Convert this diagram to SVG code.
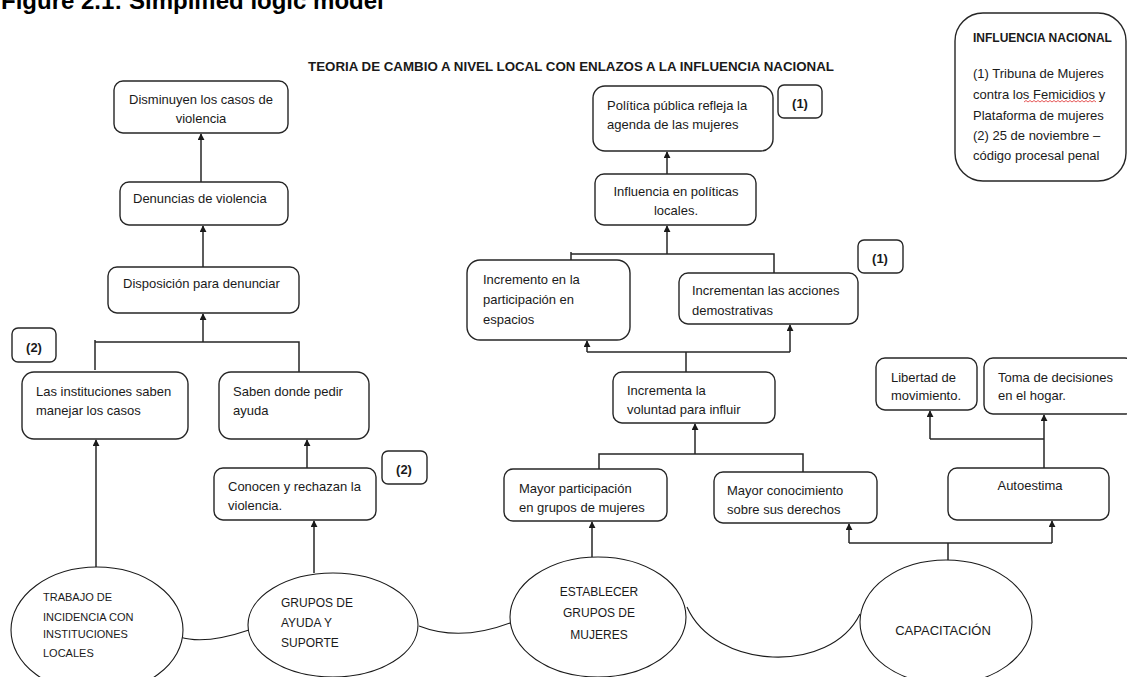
<svg xmlns="http://www.w3.org/2000/svg" width="1127" height="677" viewBox="0 0 1127 677">
<style>
.box{fill:#fff;stroke:#262626;stroke-width:1.4}
.ell{fill:#fff;stroke:#1a1a1a;stroke-width:1.1}
.t{font-family:"Liberation Sans",Arial,sans-serif;font-size:13px;fill:#1a1a1a}
.c{text-anchor:middle}
.b{font-weight:bold}
.cap11{font-family:"Liberation Sans",Arial,sans-serif;font-size:11px;fill:#1a1a1a}
.cap12{font-family:"Liberation Sans",Arial,sans-serif;font-size:12px;fill:#1a1a1a}
.ln{fill:none;stroke:#262626;stroke-width:1.5}
.arr{fill:none;stroke:#262626;stroke-width:1.5;marker-end:url(#ah)}
.crv{fill:none;stroke:#1a1a1a;stroke-width:1.1}
</style>
<defs>
<marker id="ah" viewBox="0 0 8 8" refX="7" refY="4" markerWidth="7" markerHeight="7" markerUnits="userSpaceOnUse" orient="auto">
<path d="M0,0 L8,4 L0,8 z" fill="#1a1a1a"/>
</marker>
</defs>
<rect width="1127" height="677" fill="#fff"/>
<text x="1" y="9" font-family="Liberation Sans,Arial,sans-serif" font-size="24" font-weight="bold" fill="#000">Figure 2.1: Simplified logic model</text>
<text x="308" y="71" class="t b" textLength="526" lengthAdjust="spacingAndGlyphs" style="font-size:12px">TEORIA DE CAMBIO A NIVEL LOCAL CON ENLAZOS A LA INFLUENCIA NACIONAL</text>

<g id="connectors">
<line class="arr" x1="201" y1="182" x2="201" y2="134"/>
<line class="arr" x1="203" y1="267" x2="203" y2="226"/>
<line class="arr" x1="203" y1="342" x2="203" y2="314"/>
<polyline class="ln" points="95,370 95,340"/>
<polyline class="ln" points="95,342 299,342 299,372"/>
<line class="arr" x1="96" y1="567" x2="96" y2="440"/>
<line class="arr" x1="307" y1="468" x2="307" y2="440"/>
<line class="arr" x1="314" y1="573" x2="314" y2="521"/>
<line class="arr" x1="667" y1="174" x2="667" y2="152"/>
<line class="arr" x1="667" y1="254" x2="667" y2="226"/>
<polyline class="ln" points="571,260 571,252"/>
<polyline class="ln" points="571,254 774,254 774,273"/>
<polyline class="ln" points="686,372 686,352"/>
<polyline class="ln" points="587,352 790,352"/>
<line class="arr" x1="587" y1="352" x2="587" y2="341"/>
<line class="arr" x1="790" y1="352" x2="790" y2="325"/>
<line class="arr" x1="695" y1="454" x2="695" y2="424"/>
<polyline class="ln" points="599,469 599,454 803,454 803,472"/>
<line class="arr" x1="592" y1="557" x2="592" y2="522"/>
<polyline class="ln" points="948,560 948,543"/>
<polyline class="ln" points="849,543 1052,543"/>
<line class="arr" x1="849" y1="543" x2="849" y2="524"/>
<line class="arr" x1="1052" y1="543" x2="1052" y2="521"/>
<line class="arr" x1="1044" y1="468" x2="1044" y2="415"/>
<polyline class="ln" points="1044,439 930,439"/>
<line class="arr" x1="930" y1="439" x2="930" y2="411"/>
<path class="crv" d="M180,637 Q205,645 249,630"/>
<path class="crv" d="M419,626 Q460,642 510,623"/>
<path class="crv" d="M687,607 C715,670 830,675 860,614"/>
</g>

<g id="n-disminuyen"><rect class="box" x="114" y="81" width="174" height="52" rx="9"/>
<text class="t c" x="201" y="104">Disminuyen los casos de</text><text class="t c" x="201" y="123">violencia</text></g>
<g id="n-denuncias"><rect class="box" x="120" y="182" width="168" height="43" rx="9"/>
<text class="t" x="133" y="203">Denuncias de violencia</text></g>
<g id="n-disposicion"><rect class="box" x="108" y="267" width="191" height="46" rx="9"/>
<text class="t" x="123" y="288">Disposición para denunciar</text></g>
<g id="n-ref2a"><rect class="box" x="12" y="328" width="44" height="34" rx="6"/>
<text class="t b c" x="34" y="352">(2)</text></g>
<g id="n-instituciones"><rect class="box" x="22" y="372" width="166" height="67" rx="12"/>
<text class="t" x="36" y="396">Las instituciones saben</text><text class="t" x="36" y="415">manejar los casos</text></g>
<g id="n-saben"><rect class="box" x="219" y="372" width="150" height="67" rx="12"/>
<text class="t" x="233" y="396">Saben donde pedir</text><text class="t" x="233" y="415">ayuda</text></g>
<g id="n-conocen"><rect class="box" x="214" y="468" width="162" height="52" rx="9"/>
<text class="t" x="228" y="491">Conocen y rechazan la</text><text class="t" x="228" y="510">violencia.</text></g>
<g id="n-ref2b"><rect class="box" x="382" y="451" width="45" height="33" rx="6"/>
<text class="t b c" x="404" y="474">(2)</text></g>

<g id="n-politica"><rect class="box" x="593" y="86" width="180" height="65" rx="12"/>
<text class="t" x="607" y="110">Política pública refleja la</text><text class="t" x="607" y="129">agenda de las mujeres</text></g>
<g id="n-ref1a"><rect class="box" x="778" y="85" width="44" height="33" rx="6"/>
<text class="t b c" x="800" y="108">(1)</text></g>
<g id="n-influencia"><rect class="box" x="595" y="174" width="161" height="51" rx="9"/>
<text class="t c" x="676" y="196">Influencia en políticas</text><text class="t c" x="676" y="215">locales.</text></g>
<g id="n-incremento"><rect class="box" x="467" y="260" width="163" height="80" rx="13"/>
<text class="t" x="483" y="284">Incremento en la</text><text class="t" x="483" y="304">participación en</text><text class="t" x="483" y="324">espacios</text></g>
<g id="n-incrementan"><rect class="box" x="679" y="273" width="179" height="51" rx="9"/>
<text class="t" x="692" y="295">Incrementan las acciones</text><text class="t" x="692" y="315">demostrativas</text></g>
<g id="n-ref1b"><rect class="box" x="858" y="240" width="45" height="33" rx="6"/>
<text class="t b c" x="880" y="263">(1)</text></g>
<g id="n-voluntad"><rect class="box" x="613" y="372" width="162" height="51" rx="9"/>
<text class="t" x="627" y="395">Incrementa la</text><text class="t" x="627" y="414">voluntad para influir</text></g>
<g id="n-mayorpart"><rect class="box" x="504" y="469" width="163" height="52" rx="9"/>
<text class="t" x="519" y="493">Mayor participación</text><text class="t" x="519" y="512">en grupos de mujeres</text></g>
<g id="n-mayorcon"><rect class="box" x="714" y="472" width="163" height="51" rx="9"/>
<text class="t" x="727" y="495">Mayor conocimiento</text><text class="t" x="727" y="514">sobre sus derechos</text></g>
<g id="n-libertad"><rect class="box" x="876" y="358" width="101" height="52" rx="9"/>
<text class="t" x="891" y="382">Libertad de</text><text class="t" x="891" y="400">movimiento.</text></g>
<g id="n-toma"><rect class="box" x="984" y="358" width="150" height="56" rx="9"/>
<text class="t" x="998" y="382">Toma de decisiones</text><text class="t" x="998" y="400">en el hogar.</text></g>
<g id="n-autoestima"><rect class="box" x="948" y="468" width="161" height="52" rx="9"/>
<text class="t c" x="1030" y="490">Autoestima</text></g>

<g id="n-influencia-nacional"><rect class="box" x="955" y="13" width="171" height="168" rx="28"/>
<text class="t b" x="973" y="42" style="font-size:12px">INFLUENCIA NACIONAL</text>
<text class="t" x="973" y="78">(1) Tribuna de Mujeres</text>
<text class="t" x="973" y="99">contra los Femicidios y</text>
<path d="M1024,102 l2,-1.5 l2,1.5 l2,-1.5 l2,1.5 l2,-1.5 l2,1.5 l2,-1.5 l2,1.5 l2,-1.5 l2,1.5 l2,-1.5 l2,1.5 l2,-1.5 l2,1.5 l2,-1.5 l2,1.5 l2,-1.5 l2,1.5 l2,-1.5 l2,1.5 l2,-1.5 l2,1.5 l2,-1.5 l2,1.5 l2,-1.5 l2,1.5 l2,-1.5 l2,1.5 l2,-1.5 l2,1.5 l2,-1.5 l2,1.5 l2,-1.5 l2,1.5 l2,-1.5 l2,1.5" fill="none" stroke="#e03030" stroke-width="0.8"/>
<text class="t" x="973" y="120">Plataforma de mujeres</text>
<text class="t" x="973" y="140">(2) 25 de noviembre –</text>
<text class="t" x="973" y="160">código procesal penal</text></g>

<g id="n-trabajo"><ellipse class="ell" cx="97" cy="630" rx="86" ry="63"/>
<text class="cap11" x="43" y="601">TRABAJO DE</text><text class="cap11" x="43" y="621">INCIDENCIA CON</text><text class="cap11" x="43" y="638">INSTITUCIONES</text><text class="cap11" x="43" y="657">LOCALES</text></g>
<g id="n-grupos"><ellipse class="ell" cx="333" cy="625" rx="85" ry="52"/>
<text class="cap12" x="281" y="607">GRUPOS DE</text><text class="cap12" x="281" y="627">AYUDA Y</text><text class="cap12" x="281" y="647">SUPORTE</text></g>
<g id="n-establecer"><ellipse class="ell" cx="598" cy="617" rx="88" ry="60"/>
<text class="cap12 c" x="599" y="596">ESTABLECER</text><text class="cap12 c" x="599" y="617">GRUPOS DE</text><text class="cap12 c" x="599" y="639">MUJERES</text></g>
<g id="n-capacitacion"><ellipse class="ell" cx="946" cy="622" rx="86" ry="62"/>
<text class="t c" x="943" y="635">CAPACITACIÓN</text></g>
</svg>
